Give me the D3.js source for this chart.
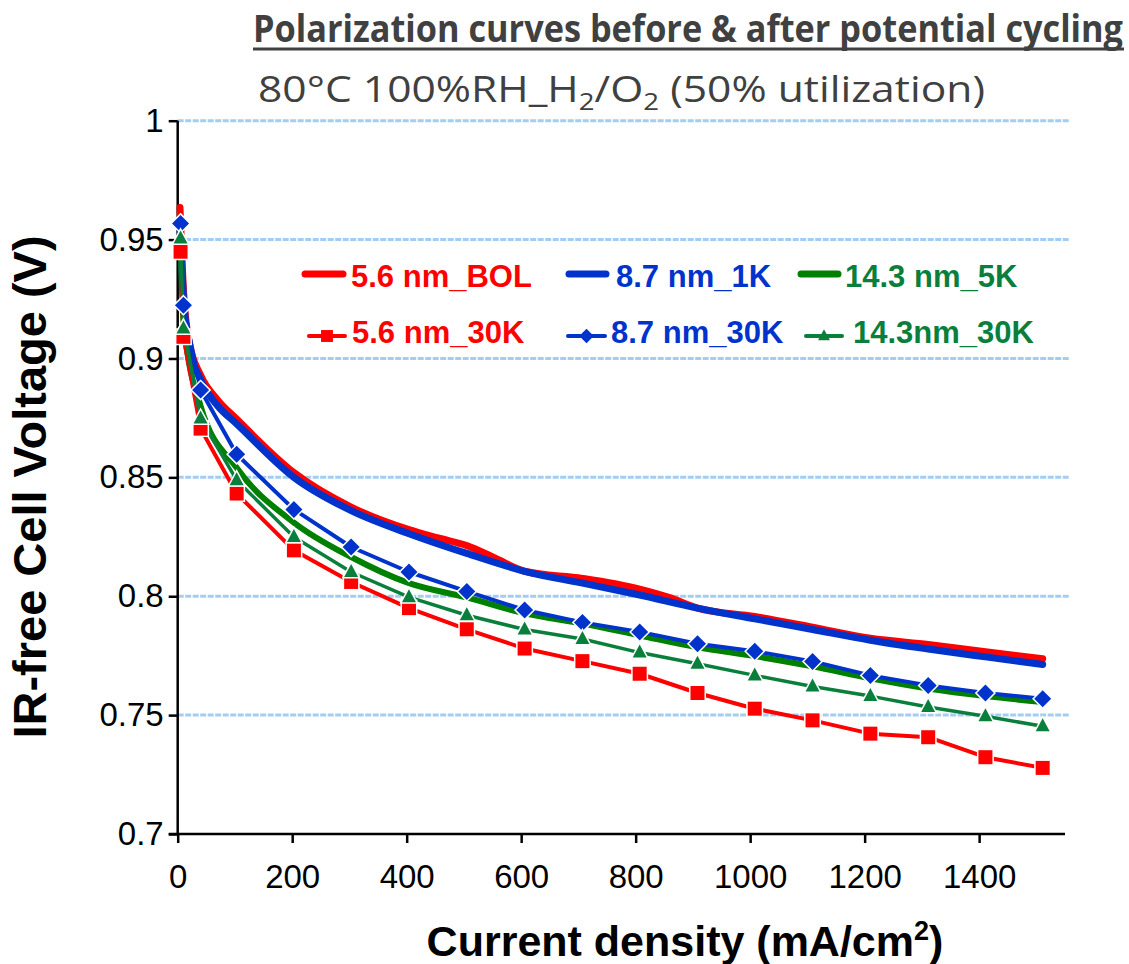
<!DOCTYPE html>
<html>
<head>
<meta charset="utf-8">
<script src="https://cdn.jsdelivr.net/npm/d3@7"></script>
<style>
  body { margin: 0; background: #fff; }
  svg { display: block; }
</style>
</head>
<body>
<div id="chart"></div>
<script>
// current density (mA/cm2) for the 30K marker series
const current30K = [5, 10, 40, 103, 203, 303, 404, 505, 606, 707, 807, 908, 1008, 1109, 1210, 1311, 1411, 1511];
const nm56_30K  = [0.9449, 0.9091, 0.8705, 0.8432, 0.8193, 0.806, 0.795, 0.7861, 0.778, 0.7727, 0.7674, 0.7593, 0.7527, 0.7478, 0.7422, 0.7407, 0.7323, 0.7278];
const nm87_30K  = [0.9568, 0.9224, 0.8867, 0.8597, 0.8365, 0.8207, 0.8102, 0.802, 0.7942, 0.789, 0.785, 0.780, 0.7769, 0.7726, 0.7667, 0.7625, 0.7593, 0.7569];
const nm143_30K = [0.9505, 0.9126, 0.8747, 0.8488, 0.8249, 0.8102, 0.7996, 0.792, 0.786, 0.782, 0.7763, 0.7716, 0.7667, 0.762, 0.758, 0.7534, 0.7495, 0.7453];

// smooth (no marker) series
const currentBOL = [4, 10, 20, 40, 70, 103, 203, 303, 404, 455, 505, 555, 606, 707, 807, 858, 908, 1008, 1109, 1210, 1311, 1411, 1511];
const nm56_BOL   = [0.9635, 0.929, 0.907, 0.893, 0.8825, 0.8745, 0.852, 0.8375, 0.828, 0.8245, 0.8213, 0.816, 0.8105, 0.8075, 0.803, 0.7995, 0.795, 0.7915, 0.787, 0.7823, 0.7797, 0.7767, 0.7737];
const current1K  = [4, 10, 20, 40, 70, 103, 203, 303, 404, 505, 606, 707, 807, 908, 1008, 1109, 1210, 1311, 1411, 1511];
const nm87_1K    = [0.956, 0.926, 0.905, 0.891, 0.880, 0.8725, 0.850, 0.836, 0.8263, 0.818, 0.8105, 0.8055, 0.8005, 0.795, 0.7905, 0.786, 0.7815, 0.7778, 0.7745, 0.7713];
const current5K  = [5, 10, 40, 103, 203, 303, 404, 505, 606, 707, 807, 908, 1008, 1109, 1210, 1311, 1411, 1511];
const nm143_5K   = [0.950, 0.916, 0.880, 0.854, 0.831, 0.8165, 0.8055, 0.7995, 0.7928, 0.7885, 0.7835, 0.7785, 0.7748, 0.7705, 0.7655, 0.7612, 0.758, 0.7555];

const xTicks = [0, 200, 400, 600, 800, 1000, 1200, 1400];
const yTicks = [0.7, 0.75, 0.8, 0.85, 0.9, 0.95, 1];

const width = 1129, height = 964;
const RED = "#ff0000", BLUE = "#0033cc", GREEN = "#008000", GREEN2 = "#0a7f3c";

const series = [
    {name: "5.6 nm_BOL",  xs: currentBOL, ys: nm56_BOL,  color: RED,   w: 7,   marker: null,  curve: d3.curveMonotoneX},
    {name: "8.7 nm_1K",   xs: current1K,  ys: nm87_1K,   color: BLUE,  w: 7,   marker: null,  curve: d3.curveMonotoneX},
    {name: "14.3 nm_5K",  xs: current5K,  ys: nm143_5K,  color: GREEN, w: 6,   marker: null,  curve: d3.curveMonotoneX},
    {name: "5.6 nm_30K",  xs: current30K, ys: nm56_30K,  color: RED,   w: 4,   marker: "square",   curve: d3.curveLinear},
    {name: "8.7 nm_30K",  xs: current30K, ys: nm87_30K,  color: BLUE,  w: 4,   marker: "diamond",  curve: d3.curveLinear},
    {name: "14.3nm_30K",  xs: current30K, ys: nm143_30K, color: GREEN2, w: 3.5, marker: "triangle", curve: d3.curveLinear}
];

const svg = d3.select("#chart").append("svg")
    .attr("width", width)
    .attr("height", height);

const x = d3.scaleLinear().domain([0, 1550]).range([177.7, 1065]);
const y = d3.scaleLinear().domain([0.7, 1]).range([834, 120.7]);

// gridlines
svg.append("g")
    .selectAll("line")
    .data(yTicks.filter(d => d > 0.7))
    .enter().append("line")
    .attr("x1", x(0)).attr("x2", 1070)
    .attr("y1", d => y(d)).attr("y2", d => y(d))
    .attr("stroke", "#a4cdf4")
    .attr("stroke-width", 3)
    .attr("stroke-dasharray", "6,1.5");

// axes
const yAxis = svg.append("g")
    .attr("transform", `translate(${x(0)},0)`)
    .call(d3.axisLeft(y).tickValues(yTicks).tickSize(9).tickSizeOuter(0).tickPadding(5)
        .tickFormat(d => d3.format("~g")(+d.toFixed(2))));
const xAxis = svg.append("g")
    .attr("transform", `translate(0,${y(0.7)})`)
    .call(d3.axisBottom(x).tickValues(xTicks).tickSize(9).tickSizeOuter(0).tickPadding(22)
        .tickFormat(d3.format("d")));

[yAxis, xAxis].forEach(g => {
    g.select(".domain").remove();
    g.selectAll(".tick line").attr("stroke", "#000").attr("stroke-width", 2.5);
    g.selectAll(".tick text")
        .attr("font-family", "Liberation Sans, Arial, sans-serif")
        .attr("font-size", 33)
        .attr("fill", "#000");
});

svg.append("line")
    .attr("x1", x(0)).attr("x2", x(0))
    .attr("y1", y(1)).attr("y2", y(0.7))
    .attr("stroke", "#000").attr("stroke-width", 2.5);
svg.append("line")
    .attr("x1", x(0) - 9).attr("x2", 1065)
    .attr("y1", y(0.7)).attr("y2", y(0.7))
    .attr("stroke", "#000").attr("stroke-width", 2.5);

// lines
const plot = svg.append("g");
series.forEach(s => {
    const pts = s.xs.map((v, i) => [v, s.ys[i]]);
    plot.append("path")
        .datum(pts)
        .attr("fill", "none")
        .attr("stroke", s.color)
        .attr("stroke-width", s.w)
        .attr("stroke-linejoin", "round")
        .attr("stroke-linecap", "round")
        .attr("d", d3.line().x(d => x(d[0])).y(d => y(d[1])).curve(s.curve));
});

function markerPath(type) {
    if (type === "square") return "M-7,-7H7V7H-7Z";
    if (type === "diamond") return "M0,-8.5L8.5,0L0,8.5L-8.5,0Z";
    return "M0,-8L7,5H-7Z";
}

series.filter(s => s.marker).forEach(s => {
    plot.append("g")
        .selectAll("path")
        .data(s.xs.map((v, i) => [v, s.ys[i]]))
        .enter().append("path")
        .attr("transform", d => `translate(${x(d[0])},${y(d[1])})`)
        .attr("d", markerPath(s.marker))
        .attr("fill", s.color)
        .attr("stroke", "#fff")
        .attr("stroke-width", 3)
        .attr("paint-order", "stroke");
});

// legend
const legendPos = [
    {x1: 305, x2: 343, y: 274, tx: 351, ty: 287},
    {x1: 569, x2: 606, y: 274, tx: 616, ty: 287},
    {x1: 801, x2: 838, y: 274, tx: 845, ty: 287},
    {x1: 309, x2: 345, y: 336, tx: 352, ty: 343},
    {x1: 568, x2: 605, y: 336, tx: 611, ty: 343},
    {x1: 806, x2: 842, y: 336, tx: 853, ty: 343}
];
series.forEach((s, i) => {
    const p = legendPos[i];
    const lg = svg.append("g");
    lg.append("line")
        .attr("x1", p.x1).attr("x2", p.x2)
        .attr("y1", p.y).attr("y2", p.y)
        .attr("stroke", s.color)
        .attr("stroke-width", s.marker ? 4 : 7)
        .attr("stroke-linecap", "round");
    if (s.marker) {
        lg.append("path")
            .attr("transform", `translate(${(p.x1 + p.x2) / 2},${p.y}) scale(0.85)`)
            .attr("d", markerPath(s.marker))
            .attr("fill", s.color);
    }
    lg.append("text")
        .attr("x", p.tx).attr("y", p.ty)
        .attr("font-family", "Liberation Sans, Arial, sans-serif")
        .attr("font-weight", "bold")
        .attr("font-size", 31)
        .attr("fill", s.color === GREEN ? GREEN2 : s.color)
        .text(s.name);
});

// titles
svg.append("text")
    .attr("x", 253).attr("y", 42)
    .attr("font-family", "Open Sans, sans-serif")
    .attr("font-weight", "bold")
    .attr("font-size", 38)
    .attr("fill", "#404040")
    .attr("textLength", 870)
    .attr("lengthAdjust", "spacingAndGlyphs")
    .text("Polarization curves before  & after potential cycling");
svg.append("line")
    .attr("x1", 253).attr("x2", 1124)
    .attr("y1", 49).attr("y2", 49)
    .attr("stroke", "#404040").attr("stroke-width", 3);

const sub = svg.append("text")
    .attr("x", 258).attr("y", 102)
    .attr("font-family", "Open Sans, sans-serif")
    .attr("font-size", 37)
    .attr("fill", "#404040")
    .attr("textLength", 727)
    .attr("lengthAdjust", "spacingAndGlyphs");
sub.append("tspan").text("80°C 100%RH_H");
sub.append("tspan").attr("font-size", 24).attr("dy", 8).text("2");
sub.append("tspan").attr("dy", -8).text("/O");
sub.append("tspan").attr("font-size", 24).attr("dy", 8).text("2");
sub.append("tspan").attr("dy", -8).text(" (50% utilization)");

// axis titles
svg.append("text")
    .attr("transform", "translate(46,487) rotate(-90)")
    .attr("text-anchor", "middle")
    .attr("font-family", "Liberation Sans, Arial, sans-serif")
    .attr("font-weight", "bold")
    .attr("font-size", 47)
    .attr("fill", "#000")
    .text("IR-free Cell Voltage (V)");

const xt = svg.append("text")
    .attr("x", 685).attr("y", 956)
    .attr("text-anchor", "middle")
    .attr("font-family", "Liberation Sans, Arial, sans-serif")
    .attr("font-weight", "bold")
    .attr("font-size", 43)
    .attr("fill", "#000");
xt.append("tspan").text("Current density (mA/cm");
xt.append("tspan").attr("font-size", 27).attr("dy", -16).text("2");
xt.append("tspan").attr("dy", 16).text(")");
</script>
</body>
</html>
